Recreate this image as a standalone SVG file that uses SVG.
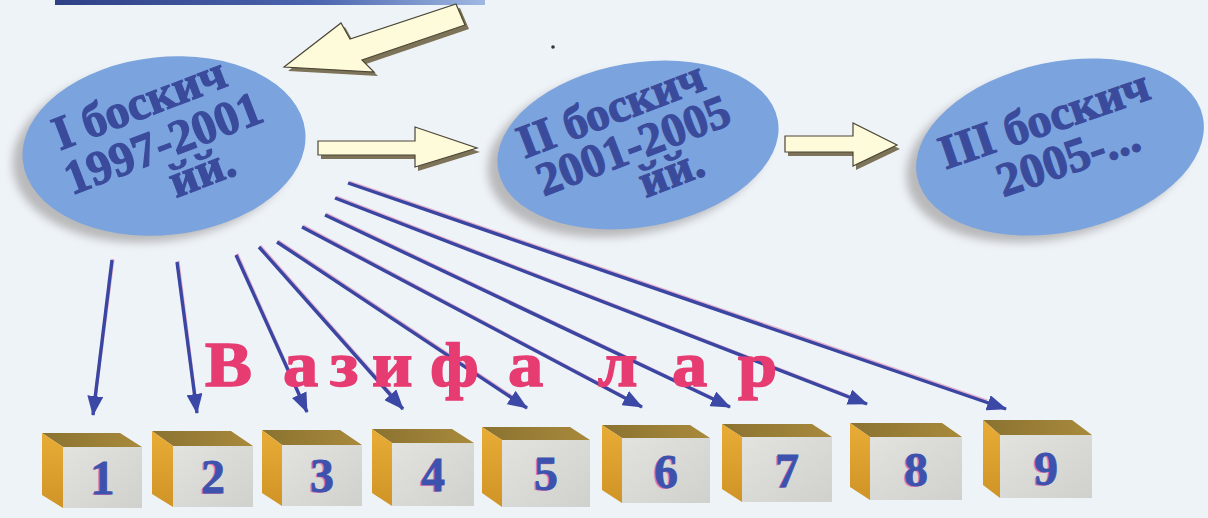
<svg xmlns="http://www.w3.org/2000/svg" width="1208" height="518" viewBox="0 0 1208 518">
  <defs>
    <style>
      .stage { fill: #7ba3de; }
      .shadow { fill: #b9b9bb; filter: url(#blur); }
      .stxt { font-family: "Liberation Serif", "DejaVu Serif", serif; font-weight: bold; fill: #3b4b9c; stroke: #3b4b9c; stroke-width: 1.2; text-anchor: middle; }
      .blk { fill: #fdfbd9; stroke: #4c4636; stroke-width: 1.2; stroke-linejoin: miter; }
      .blksh { fill: #7d7358; }
      .conn { stroke: #3b46a2; stroke-width: 3.4; fill: none; marker-end: url(#ah); }
      .connh { stroke: #e07aa8; stroke-width: 3.2; fill: none; opacity: 0.55; }
      .top { fill: url(#gTop); }
      .side { fill: url(#gSide); }
      .front { fill: url(#gFront); }
      .num { font-family: "Liberation Serif", "DejaVu Serif", serif; font-weight: bold; font-size: 48px; fill: #3d52ad; stroke: #3d52ad; stroke-width: 0.8; text-anchor: middle; }
      .numsh { font-family: "Liberation Serif", "DejaVu Serif", serif; font-weight: bold; font-size: 48px; fill: #e27ab2; text-anchor: middle; }
      .title { font-family: "Liberation Serif", "DejaVu Serif", serif; font-weight: bold; font-size: 64px; fill: #e63c72; stroke: #e63c72; stroke-width: 1.5; }
    </style>
    <filter id="blur" x="-20%" y="-20%" width="140%" height="140%">
      <feGaussianBlur stdDeviation="4"/>
    </filter>
    <linearGradient id="gBar" x1="0" y1="0" x2="1" y2="0">
      <stop offset="0" stop-color="#2f4086"/>
      <stop offset="0.6" stop-color="#4a63ad"/>
      <stop offset="1" stop-color="#9fb8e2"/>
    </linearGradient>
    <linearGradient id="gTop" x1="0" y1="0" x2="1" y2="0">
      <stop offset="0" stop-color="#8a7230"/>
      <stop offset="1" stop-color="#a98a3c"/>
    </linearGradient>
    <linearGradient id="gSide" x1="0" y1="0" x2="0" y2="1">
      <stop offset="0" stop-color="#e8ac36"/>
      <stop offset="1" stop-color="#cf9426"/>
    </linearGradient>
    <linearGradient id="gFront" x1="0" y1="0" x2="1" y2="1">
      <stop offset="0" stop-color="#e2e2df"/>
      <stop offset="1" stop-color="#d0d0cc"/>
    </linearGradient>
    <marker id="ah" viewBox="0 0 20 16" refX="19" refY="8" markerWidth="20" markerHeight="16" orient="auto" markerUnits="userSpaceOnUse">
      <path d="M0,0 L20,8 L0,16 Z" fill="#3b48a6"/>
    </marker>
  </defs>

  <rect width="1208" height="518" fill="#eef3f8"/>
  <rect x="55" y="0" width="430" height="5" fill="url(#gBar)"/>
  <circle cx="553" cy="47" r="1.8" fill="#333"/>

  <!-- block arrows -->
  <g id="arrow-back">
    <path class="blksh" d="M288,71 L345,27 L354,43 L460,8 L469,29 L366,64 L378,76 Z"/>
    <path class="blk" d="M284,67 L341,23 L350,39 L456,4 L465,25 L362,60 L374,72 Z"/>
  </g>
  <g id="arrow-1-2">
    <path class="blksh" d="M321,145 L418,145 L418,131 L480,152 L418,171 L418,159 L321,159 Z"/>
    <path class="blk" d="M318,141 L415,141 L415,127 L477,148 L415,167 L415,155 L318,155 Z"/>
  </g>
  <g id="arrow-2-3">
    <path class="blksh" d="M788,140 L856,140 L856,127 L900,149 L856,170 L856,156 L788,156 Z"/>
    <path class="blk" d="M785,136 L853,136 L853,123 L897,145 L853,166 L853,152 L785,152 Z"/>
  </g>

  <!-- stages -->
  <g id="stage-1">
    <ellipse class="shadow" cx="154" cy="154" rx="142" ry="88" transform="rotate(-6 154 154)"/>
    <ellipse class="stage" cx="164" cy="146" rx="142" ry="89" transform="rotate(-6 164 146)"/>
    <g transform="translate(163,143) rotate(-21)">
      <text class="stxt" font-size="48" x="-8" y="-30">I боскич</text>
      <text class="stxt" font-size="48" x="0" y="16">1997-2001</text>
      <text class="stxt" font-size="48" x="26" y="56">йй.</text>
    </g>
  </g>
  <g id="stage-2">
    <ellipse class="shadow" cx="628" cy="153" rx="142" ry="82" transform="rotate(-10 628 153)"/>
    <ellipse class="stage" cx="638" cy="145" rx="142" ry="82" transform="rotate(-10 638 145)"/>
    <g transform="translate(633,145) rotate(-21)">
      <text class="stxt" font-size="47" x="-8" y="-26">II боскич</text>
      <text class="stxt" font-size="47" x="0" y="16">2001-2005</text>
      <text class="stxt" font-size="47" x="26" y="54">йй.</text>
    </g>
  </g>
  <g id="stage-3">
    <ellipse class="shadow" cx="1050" cy="155" rx="146" ry="84" transform="rotate(-12 1050 155)"/>
    <ellipse class="stage" cx="1060" cy="147" rx="146" ry="85" transform="rotate(-12 1060 147)"/>
    <g transform="translate(1068,158) rotate(-19)">
      <text class="stxt" font-size="48" x="-10" y="-29">III боскич</text>
      <text class="stxt" font-size="48" x="0" y="16">2005-...</text>
    </g>
  </g>

  <!-- connectors -->
  <g id="connectors">
    <line class="connh" x1="113" y1="259" x2="95" y2="398"/>
    <line class="conn" x1="112" y1="260" x2="93" y2="415"/>
    <line class="connh" x1="178" y1="261" x2="195" y2="396"/>
    <line class="conn" x1="177" y1="262" x2="197" y2="413"/>
    <line class="connh" x1="237" y1="254" x2="299" y2="394"/>
    <line class="conn" x1="236" y1="255" x2="307" y2="412"/>
    <line class="connh" x1="260" y1="246" x2="391" y2="394"/>
    <line class="conn" x1="259" y1="247" x2="403" y2="409"/>
    <line class="connh" x1="278" y1="241" x2="511" y2="396"/>
    <line class="conn" x1="277" y1="242" x2="527" y2="408"/>
    <line class="connh" x1="303" y1="226" x2="624" y2="397"/>
    <line class="conn" x1="302" y1="227" x2="642" y2="407"/>
    <line class="connh" x1="326" y1="214" x2="712" y2="398"/>
    <line class="conn" x1="325" y1="215" x2="730" y2="407"/>
    <line class="connh" x1="336" y1="197" x2="848" y2="396"/>
    <line class="conn" x1="335" y1="198" x2="867" y2="404"/>
    <line class="connh" x1="349" y1="182" x2="987" y2="401"/>
    <line class="conn" x1="348" y1="183" x2="1006" y2="409"/>
  </g>

  <!-- title -->
  <text class="title" transform="scale(1.1 1)" x="186.4 257.3 300 338.2 390.9 461.8 543.6 610.9 670.9" y="386">Вазифалар</text>

  <!-- cubes -->
  <g id="task-1">
    <polygon class="top" points="42,433 120,433 142,447 63,447"/>
    <polygon class="side" points="42,433 63,447 63,508 42,495"/>
    <rect class="front" x="63" y="447" width="79" height="61"/>
    <text class="numsh" x="101" y="495">1</text><text class="num" x="102.5" y="494">1</text>
  </g>
  <g id="task-2">
    <polygon class="top" points="152,431 231,431 253,446 173,446"/>
    <polygon class="side" points="152,431 173,446 173,507 152,494"/>
    <rect class="front" x="173" y="446" width="80" height="61"/>
    <text class="numsh" x="211.5" y="494">2</text><text class="num" x="213" y="493">2</text>
  </g>
  <g id="task-3">
    <polygon class="top" points="262,430 340,430 362,445 282,445"/>
    <polygon class="side" points="262,430 282,445 282,506 262,493"/>
    <rect class="front" x="282" y="445" width="80" height="61"/>
    <text class="numsh" x="320.5" y="493">3</text><text class="num" x="322" y="492">3</text>
  </g>
  <g id="task-4">
    <polygon class="top" points="372,429 452,429 474,443 392,443"/>
    <polygon class="side" points="372,429 392,443 392,506 372,493"/>
    <rect class="front" x="392" y="443" width="82" height="63"/>
    <text class="numsh" x="431.5" y="492">4</text><text class="num" x="433" y="491">4</text>
  </g>
  <g id="task-5">
    <polygon class="top" points="482,427 570,427 590,440 502,440"/>
    <polygon class="side" points="482,427 502,440 502,507 482,493"/>
    <rect class="front" x="502" y="440" width="88" height="67"/>
    <text class="numsh" x="544.5" y="491">5</text><text class="num" x="546" y="490">5</text>
  </g>
  <g id="task-6">
    <polygon class="top" points="602,425 690,425 710,438 622,438"/>
    <polygon class="side" points="602,425 622,438 622,503 602,490"/>
    <rect class="front" x="622" y="438" width="88" height="65"/>
    <text class="numsh" x="664.5" y="489">6</text><text class="num" x="666" y="488">6</text>
  </g>
  <g id="task-7">
    <polygon class="top" points="722,424 812,424 832,437 742,437"/>
    <polygon class="side" points="722,424 742,437 742,502 722,489"/>
    <rect class="front" x="742" y="437" width="90" height="65"/>
    <text class="numsh" x="785.5" y="488">7</text><text class="num" x="787" y="487">7</text>
  </g>
  <g id="task-8">
    <polygon class="top" points="850,423 942,423 962,437 870,437"/>
    <polygon class="side" points="850,423 870,437 870,500 850,487"/>
    <rect class="front" x="870" y="437" width="92" height="63"/>
    <text class="numsh" x="914.5" y="487">8</text><text class="num" x="916" y="486">8</text>
  </g>
  <g id="task-9">
    <polygon class="top" points="983,420 1072,420 1092,435 1000,435"/>
    <polygon class="side" points="983,420 1000,435 1000,498 983,485"/>
    <rect class="front" x="1000" y="435" width="92" height="63"/>
    <text class="numsh" x="1044.5" y="486">9</text><text class="num" x="1046" y="485">9</text>
  </g>
</svg>
